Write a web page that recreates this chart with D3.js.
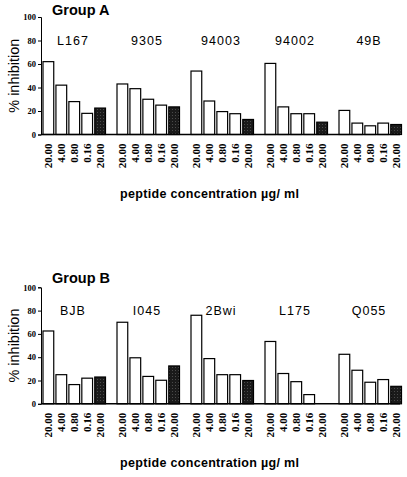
<!DOCTYPE html>
<html><head><meta charset="utf-8">
<script src="https://cdn.jsdelivr.net/npm/d3@7"></script>
<style>body{margin:0;background:#fff}</style>
</head><body>
<script>
const concLabels = ["20.00","4.00","0.80","0.16","20.00"];
const yTicks = [0,20,40,60,80,100];
const groupA = ["L167","9305","94003","94002","49B"];
const valuesA = [
  [62,42,28,18,22.5],
  [43,39,30,25,23.5],
  [54,28.5,19.5,17.7,12.8],
  [60.5,23.5,17.7,17.7,10.5],
  [20.5,9.7,7.4,9.7,8.5]
];
const groupB = ["BJB","I045","2Bwi","L175","Q055"];
const valuesB = [
  [62.5,25,16.5,22,23],
  [70,39.5,23.5,20.2,32.5],
  [76,38.8,25,25,20],
  [53.5,26,19,7.9,0],
  [42.5,28.8,18.5,20.8,15]
];
const panels = [
  {title:"Group A", groups:groupA, values:valuesA, top:17, base:134.5, titleY:15, xTitleY:198},
  {title:"Group B", groups:groupB, values:valuesB, top:287.3, base:403.8, titleY:283, xTitleY:467}
];

const svg = d3.select("body").append("svg").attr("width",407).attr("height",477);
const defs = svg.append("defs");
const pat = defs.append("pattern").attr("id","dots").attr("width",3).attr("height",3).attr("patternUnits","userSpaceOnUse");
pat.append("rect").attr("width",3).attr("height",3).attr("fill","#1a1a1a");
pat.append("rect").attr("x",1).attr("y",1).attr("width",1).attr("height",1).attr("fill","#4a4a4a");

const axisX = 41;
panels.forEach(p => {
  const g = svg.append("g");
  const y = d3.scaleLinear().domain([0,100]).range([p.base,p.top]);
  const xg = d3.scaleBand().domain(p.groups).range([43,43+74*5]).padding(0);
  const xb = d3.scaleBand().domain(d3.range(5)).range([0,62.5]).paddingInner(0.17).paddingOuter(0);

  g.append("text").attr("x",52).attr("y",p.titleY).text(p.title)
    .attr("font-family","Liberation Sans, Arial, sans-serif").attr("font-weight","bold").attr("font-size",14.5);

  const ya = d3.axisLeft(y).tickValues(yTicks).tickSize(3).tickPadding(2);
  const yAxisG = g.append("g").attr("transform",`translate(${axisX},0)`).call(ya);
  yAxisG.select(".domain").attr("stroke","#000").attr("stroke-width",1);
  yAxisG.selectAll("text").attr("font-family","Liberation Serif, Times New Roman, serif").attr("font-weight","bold").attr("font-size",8.5);

  g.append("text").attr("transform",`translate(19,${(p.top+p.base)/2}) rotate(-90)`)
    .attr("text-anchor","middle").text("% inhibition")
    .attr("textLength",74).attr("lengthAdjust","spacingAndGlyphs")
    .attr("font-family","Liberation Sans, Arial, sans-serif").attr("font-size",14.5);

  p.groups.forEach((grp,gi) => {
    const gx = xg(grp);
    const vals = p.values[gi];
    vals.forEach((v,i) => {
      if (v > 0) {
        g.append("rect")
          .attr("x", gx + xb(i)).attr("width", xb.bandwidth())
          .attr("y", y(v)).attr("height", y(0)-y(v))
          .attr("fill", i===4 ? "url(#dots)" : "#fff")
          .attr("stroke","#000").attr("stroke-width",1.2);
      }
      g.append("text")
        .attr("transform",`translate(${gx + xb(i) + xb.bandwidth()/2 + 4},${p.base+9}) rotate(-90)`)
        .attr("text-anchor","end").text(concLabels[i])
        .attr("font-family","Liberation Serif, Times New Roman, serif").attr("font-weight","bold").attr("font-size",11);
    });
    g.append("text").attr("x", gx + 30).attr("y", p.top + 28)
      .attr("text-anchor","middle").attr("letter-spacing",1).text(grp)
      .attr("font-family","Liberation Sans, Arial, sans-serif").attr("font-size",12.5);
  });

  g.append("line").attr("x1",axisX).attr("x2",400).attr("y1",y(0)).attr("y2",y(0))
    .attr("stroke","#000").attr("stroke-width",1.6);

  g.append("text").attr("x",120).attr("y",p.xTitleY)
    .attr("textLength",179).attr("lengthAdjust","spacing")
    .text("peptide concentration µg/ ml")
    .attr("font-family","Liberation Sans, Arial, sans-serif").attr("font-weight","bold").attr("font-size",12.5);
});
</script>
</body></html>
